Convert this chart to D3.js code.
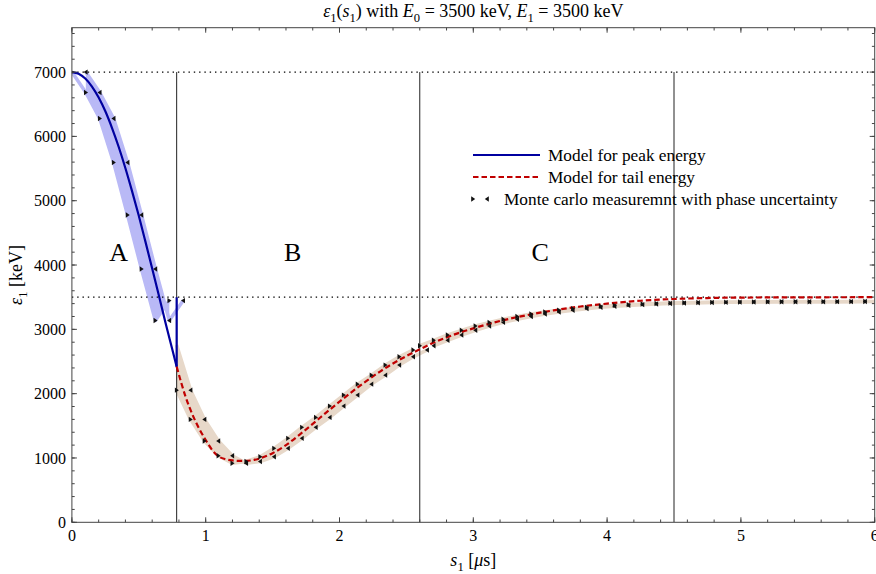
<!DOCTYPE html>
<html>
<head>
<meta charset="utf-8">
<script src="https://cdn.jsdelivr.net/npm/d3@7"></script>
<style>
  body { margin: 0; background: #fff; }
  svg { display: block; font-family: "Liberation Serif", "Times New Roman", serif; }
</style>
</head>
<body>
<svg id="chart" width="876" height="574"></svg>
<script>
// model for peak energy (region A), last point is the jump at the boundary
const peakS = [0, 0.05, 0.1, 0.15, 0.2, 0.25, 0.3, 0.35, 0.4, 0.45, 0.5, 0.55, 0.6, 0.65, 0.7, 0.75, 0.783, 0.783];
const peakE = [7000, 6975, 6900, 6775, 6605, 6390, 6130, 5835, 5505, 5145, 4765, 4360, 3945, 3525, 3100, 2690, 2420, 3500];

// model for tail energy
const tailS = [0.783, 0.82, 0.85, 0.9, 0.95, 1.0, 1.05, 1.1, 1.15, 1.2, 1.25, 1.3, 1.35, 1.4, 1.5, 1.6, 1.7, 1.8, 1.9, 2.0,
  2.1, 2.2, 2.3, 2.4, 2.5, 2.6, 2.7, 2.8, 2.9, 3.0, 3.2, 3.4, 3.6, 3.8, 4.0, 4.25, 4.5, 4.75, 5.0, 5.5, 6.0];
const tailE = [2420, 2150, 1950, 1680, 1460, 1280, 1120, 1020, 980, 962, 955, 955, 965, 990, 1075, 1200, 1360, 1530, 1705, 1875,
  2040, 2195, 2340, 2470, 2585, 2690, 2790, 2875, 2950, 3015, 3130, 3220, 3295, 3355, 3400, 3445, 3472, 3487, 3494, 3498, 3500];

// monte carlo measurements: left edge of each phase window and measured energy
const mcAS = [0, 0.104, 0.208, 0.312, 0.416, 0.52, 0.624, 0.728];
const mcAE = [7000, 6682, 6278, 5595, 4778, 3939, 3137, 3447];
const mcBS = [0.783, 0.887, 0.991, 1.095, 1.199, 1.303, 1.407, 1.511, 1.615, 1.719, 1.823, 1.927, 2.031, 2.135, 2.239, 2.343, 2.447, 2.551];
const mcBE = [2055, 1600, 1263, 1035, 918, 945, 1020, 1150, 1305, 1476, 1631, 1807, 1978, 2148, 2288, 2444, 2573, 2680];
const mcCS = [2.6, 2.704, 2.808, 2.912, 3.016, 3.12, 3.224, 3.328, 3.432, 3.536, 3.64, 3.744, 3.848, 3.952, 4.056, 4.16, 4.264,
  4.368, 4.472, 4.576, 4.68, 4.784, 4.888, 4.992, 5.096, 5.2, 5.304, 5.408, 5.512, 5.616, 5.72, 5.824, 5.928];
const mcCE = [2745, 2830, 2912, 2985, 3052, 3108, 3158, 3200, 3238, 3270, 3298, 3322, 3342, 3358, 3372, 3384, 3394,
  3402, 3408, 3413, 3417, 3420, 3423, 3425, 3427, 3428, 3429, 3430, 3430, 3431, 3431, 3432, 3432];
const phaseWidth = 0.104;
const tailBandStart = [0.783, 2755];

const boundaryS = [0.783, 2.6, 4.5];
const boundaryTop = 7000;
const refLevels = [7000, 3500];
const regionNames = ["A", "B", "C"];
const regionS = [0.35, 1.65, 3.5];
const regionE = 4200;

const xTicks = [0, 1, 2, 3, 4, 5, 6];
const yTicks = [0, 1000, 2000, 3000, 4000, 5000, 6000, 7000];

const svg = d3.select("#chart");
const x = d3.scaleLinear().domain([0, 6]).range([71.9, 874.7]);
const y = d3.scaleLinear().domain([0, 7690]).range([522.3, 27.7]);

svg.append("clipPath").attr("id", "plotClip").append("rect")
  .attr("x", x(0)).attr("y", y(7690))
  .attr("width", x(6) - x(0)).attr("height", y(0) - y(7690));
const plot = svg.append("g").attr("clip-path", "url(#plotClip)");

function interp(pts, s) {
  for (let i = 0; i < pts.length - 1; i++) {
    const a = pts[i], b = pts[i + 1];
    if (s >= a[0] && s <= b[0]) {
      if (b[0] === a[0]) return a[1];
      return a[1] + (b[1] - a[1]) * (s - a[0]) / (b[0] - a[0]);
    }
  }
  return pts[pts.length - 1][1];
}
function between(L, R) {
  const lo = Math.max(L[0][0], R[0][0]), hi = Math.min(L[L.length - 1][0], R[R.length - 1][0]);
  const xs = Array.from(new Set(L.concat(R).map(p => p[0]).filter(v => v >= lo && v <= hi))).sort((a, b) => a - b);
  return xs.map(s => [s, interp(L, s), interp(R, s)]);
}

const lineGen = d3.line().x(d => x(d[0])).y(d => y(d[1]));
const areaGen = d3.area().x(d => x(d[0])).y0(d => y(d[1])).y1(d => y(d[2]));

// uncertainty bands
const regions = [
  {s: mcAS, e: mcAE, color: "#b9b9f6", start: null},
  {s: mcBS, e: mcBE, color: "#e7d8c9", start: tailBandStart},
  {s: mcCS, e: mcCE, color: "#e7d8c9", start: null}
];
regions.forEach(r => {
  r.L = r.s.map((s, i) => [s, r.e[i]]);
  r.R = r.s.map((s, i) => [s + phaseWidth, r.e[i]]);
  const Rb = r.start ? [r.start].concat(r.R) : r.R;
  plot.append("path").attr("d", areaGen(between(r.L, Rb))).attr("fill", r.color);
  [r.L, Rb].forEach(p => plot.append("path").attr("d", lineGen(p))
    .attr("fill", "none").attr("stroke", r.color).attr("stroke-width", 3.5).attr("stroke-linejoin", "round"));
});

// reference lines
refLevels.forEach(v => plot.append("line")
  .attr("x1", x(0)).attr("x2", x(6)).attr("y1", y(v)).attr("y2", y(v))
  .attr("stroke", "#000").attr("stroke-width", 1.3).attr("stroke-dasharray", "1.4,3.9"));
boundaryS.forEach(s => plot.append("line")
  .attr("x1", x(s)).attr("x2", x(s)).attr("y1", y(0)).attr("y2", y(boundaryTop))
  .attr("stroke", "#222").attr("stroke-width", 1));

// model curves
const peakPts = peakS.map((s, i) => [s, peakE[i]]);
plot.append("path")
  .attr("d", d3.line().x(d => x(d[0])).y(d => y(d[1])).curve(d3.curveMonotoneX)(peakPts.slice(0, -1)))
  .attr("fill", "none").attr("stroke", "#0000a0").attr("stroke-width", 2.2);
plot.append("path").attr("d", lineGen(peakPts.slice(-2)))
  .attr("fill", "none").attr("stroke", "#0000a0").attr("stroke-width", 2.2);
plot.append("path")
  .attr("d", d3.line().x(d => x(d[0])).y(d => y(d[1])).curve(d3.curveMonotoneX)(tailS.map((s, i) => [s, tailE[i]])))
  .attr("fill", "none").attr("stroke", "#c00000").attr("stroke-width", 2.2).attr("stroke-dasharray", "5.5,3");

// markers
const triRight = "M-1.8,-2.7L2.2,0L-1.8,2.7Z";
const triLeft = "M1.8,-2.7L-2.2,0L1.8,2.7Z";
regions.forEach(r => {
  plot.selectAll(null).data(r.L).join("path").attr("d", triRight)
    .attr("transform", d => `translate(${x(d[0])},${y(d[1])})`).attr("fill", "#111");
  plot.selectAll(null).data(r.R).join("path").attr("d", triLeft)
    .attr("transform", d => `translate(${x(d[0])},${y(d[1])})`).attr("fill", "#111");
});

// region labels
regionNames.forEach((n, i) => svg.append("text")
  .attr("x", x(regionS[i])).attr("y", y(regionE)).attr("dy", "0.35em")
  .attr("text-anchor", "middle").attr("font-size", 26).text(n));

// frame and ticks
const frame = svg.append("g").attr("stroke", "#444").attr("fill", "none");
frame.append("rect").attr("x", x(0)).attr("y", y(7690))
  .attr("width", x(6) - x(0)).attr("height", y(0) - y(7690)).attr("stroke-width", 1);

const minorX = d3.range(0, 6.001, 0.2), minorY = d3.range(0, 7690, 200);
function ticks(g, vals, len, horiz) {
  vals.forEach(v => {
    if (horiz) {
      g.append("line").attr("x1", x(v)).attr("x2", x(v)).attr("y1", y(0)).attr("y2", y(0) - len);
      g.append("line").attr("x1", x(v)).attr("x2", x(v)).attr("y1", y(7690)).attr("y2", y(7690) + len);
    } else {
      g.append("line").attr("y1", y(v)).attr("y2", y(v)).attr("x1", x(0)).attr("x2", x(0) + len);
      g.append("line").attr("y1", y(v)).attr("y2", y(v)).attr("x1", x(6)).attr("x2", x(6) - len);
    }
  });
}
ticks(frame, minorX, 2.8, true);
ticks(frame, xTicks, 5, true);
ticks(frame, minorY, 2.8, false);
ticks(frame, yTicks, 5, false);

svg.append("g").selectAll("text").data(xTicks).join("text")
  .attr("x", d => x(d)).attr("y", y(0) + 18.5).attr("text-anchor", "middle")
  .attr("font-size", 16).text(d => d);
svg.append("g").selectAll("text").data(yTicks).join("text")
  .attr("x", x(0) - 6).attr("y", d => y(d)).attr("dy", "0.35em").attr("text-anchor", "end")
  .attr("font-size", 16).text(d => d);

// rich text: [text, italic, subscript]
function richText(t, parts, size) {
  let down = false;
  parts.forEach(p => {
    const ts = t.append("tspan").text(p[0]);
    if (p[1]) ts.attr("font-style", "italic");
    if (p[2]) { ts.attr("font-size", size * 0.7).attr("dy", size * 0.28); down = true; }
    else if (down) { ts.attr("dy", -size * 0.28); down = false; }
  });
}

const title = svg.append("text").attr("x", (x(0) + x(6)) / 2).attr("y", 17).attr("text-anchor", "middle").attr("font-size", 18);
richText(title, [["ε", true], ["1", false, true], ["(", false], ["s", true], ["1", false, true], [") with ", false],
  ["E", true], ["0", false, true], [" = 3500 keV, ", false], ["E", true], ["1", false, true], [" = 3500 keV", false]], 18);

const xl = svg.append("text").attr("x", (x(0) + x(6)) / 2).attr("y", 566).attr("text-anchor", "middle").attr("font-size", 18);
richText(xl, [["s", true], ["1", false, true], [" [", false], ["μ", true], ["s]", false]], 18);

const yl = svg.append("text").attr("transform", `translate(22,${(y(0) + y(7690)) / 2}) rotate(-90)`)
  .attr("text-anchor", "middle").attr("font-size", 18);
richText(yl, [["ε", true], ["1", false, true], [" [keV]", false]], 18);

// legend
const lg = svg.append("g").attr("font-size", 17.3);
lg.append("line").attr("x1", 473).attr("x2", 540).attr("y1", 155).attr("y2", 155)
  .attr("stroke", "#0000a0").attr("stroke-width", 2.2);
lg.append("text").attr("x", 548).attr("y", 155).attr("dy", "0.35em").text("Model for peak energy");
lg.append("line").attr("x1", 473).attr("x2", 540).attr("y1", 177).attr("y2", 177)
  .attr("stroke", "#c00000").attr("stroke-width", 2.2).attr("stroke-dasharray", "5.5,3");
lg.append("text").attr("x", 548).attr("y", 177).attr("dy", "0.35em").text("Model for tail energy");
lg.append("path").attr("d", triRight).attr("transform", "translate(473,199)").attr("fill", "#111");
lg.append("path").attr("d", triLeft).attr("transform", "translate(487,199)").attr("fill", "#111");
lg.append("text").attr("x", 504).attr("y", 199).attr("dy", "0.35em").text("Monte carlo measuremnt with phase uncertainty");
</script>
</body>
</html>
